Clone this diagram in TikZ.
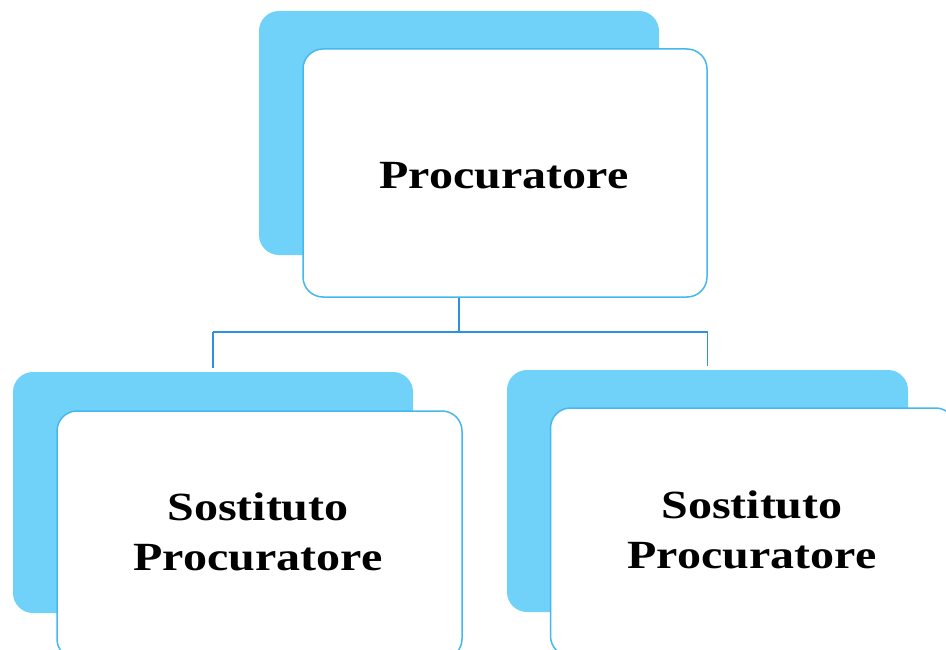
\documentclass[tikz,border=0pt]{standalone}
\usepackage{fontspec}
\setmainfont{Liberation Serif}
\usepackage{graphicx}
\definecolor{backblue}{HTML}{70D2F8}
\definecolor{edgeblue}{HTML}{45B8F0}
\definecolor{linkblue}{HTML}{2E90E0}
\tikzset{
  backbox/.style={rectangle, rounded corners=20pt, fill=backblue, draw=none, inner sep=0pt},
  frontbox/.style={rectangle, rounded corners=20pt, fill=white, draw=edgeblue, line width=1.5pt, inner sep=0pt},
  label/.style={align=center, inner sep=0pt, font=\fontsize{40}{50}\selectfont\bfseries},
  link/.style={draw=linkblue, line width=1.8pt}
}
\begin{document}
\begin{tikzpicture}[x=1pt,y=-1pt]
\useasboundingbox (0,0) rectangle (946,650);
\fill[white] (0,0) rectangle (946,650);
\clip (0,0) rectangle (946,650);
% top
\node[backbox, minimum width=400pt, minimum height=244pt] (tback) at (459,133) {};
\node[frontbox, minimum width=404pt, minimum height=248pt] (tfront) at (505,173) {};
\node[label] (ttext) at (504,176) {\scalebox{1.2}[1]{Procuratore}};
% left
\node[backbox, minimum width=400pt, minimum height=241pt] (lback) at (213,492.5) {};
\node[frontbox, minimum width=405pt, minimum height=248pt] (lfront) at (259.5,535) {};
\node[label] (ltext) at (258,532) {\scalebox{1.2}[1]{Sostituto}\\\scalebox{1.2}[1]{Procuratore}};
% right
\node[backbox, minimum width=401pt, minimum height=242pt] (rback) at (707.5,491) {};
\node[frontbox, minimum width=405pt, minimum height=248pt] (rfront) at (753,532) {};
\node[label] (rtext) at (752,530) {\scalebox{1.2}[1]{Sostituto}\\\scalebox{1.2}[1]{Procuratore}};
% connectors
\coordinate (bus) at (0,332);
\draw[link] (tback.south |- tfront.south) -- (tback.south |- bus);
\draw[link] (lback.north |- bus) -- (rback.north |- bus);
\draw[link] (lback.north |- bus) -- ([yshift=4pt]lback.north);
\draw[link] (rback.north |- bus) -- ([yshift=4pt]rback.north);
\end{tikzpicture}
\end{document}
